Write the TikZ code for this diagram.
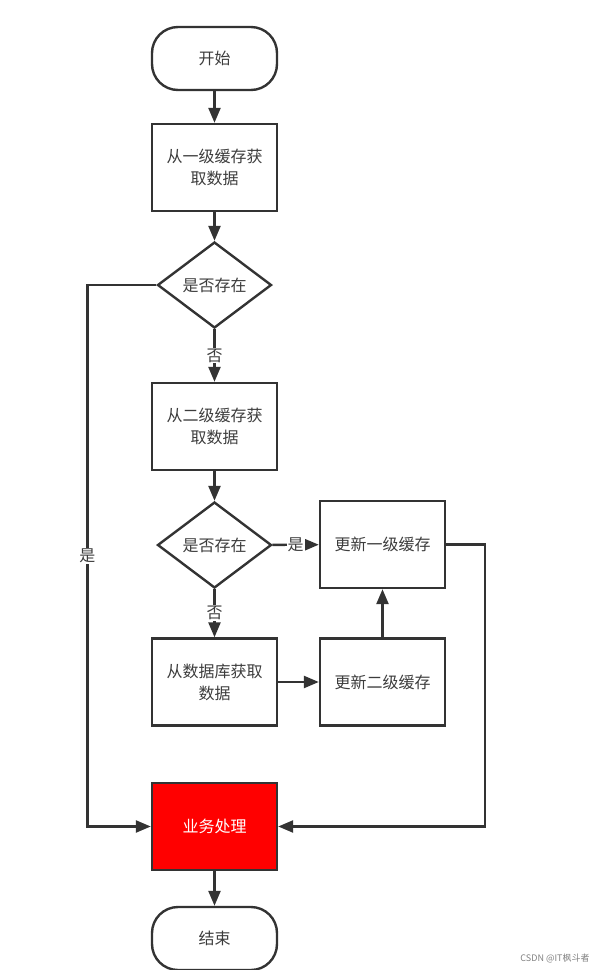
\documentclass[tikz,border=0pt]{standalone}
\usepackage{fontspec}
\setmainfont{Noto Sans CJK SC}
\usetikzlibrary{shapes.geometric,arrows.meta}

\definecolor{linegray}{HTML}{333333}
\definecolor{textgray}{HTML}{3C3C3C}
\definecolor{bizred}{HTML}{FF0000}

\begin{document}
\begin{tikzpicture}[x=1pt,y=-1pt,
    every node/.style={font=\fontsize{16}{22}\selectfont, text=textgray},
    flowline/.style={draw=linegray, line width=2.4pt},
    arrowline/.style={flowline, -{Triangle[length=15pt,width=12pt]}},
    terminal/.style={draw=linegray, line width=2.4pt, rounded corners=26pt,
      minimum width=125pt, minimum height=63pt, inner sep=0pt},
    process/.style={draw=linegray, line width=2.4pt, minimum width=125pt,
      minimum height=87pt, inner sep=0pt, align=center},
    decision/.style={diamond, draw=linegray, line width=2.4pt,
      minimum width=114pt, minimum height=86pt, inner sep=0pt},
    edgelabel/.style={fill=white, inner sep=1pt}]

  % Page frame
  \useasboundingbox (0,0) rectangle (599,970);

  % Main column
  \node[terminal] (start) at (214.5,58.5) {开始};
  \node[process] (fetchA) at (214.5,167.5) {从一级缓存获\\取数据};
  \node[decision] (checkA) at (214.5,285) {是否存在};
  \node[process] (fetchB) at (214.5,426.5) {从二级缓存获\\取数据};
  \node[decision] (checkB) at (214.5,545) {是否存在};
  \node[process] (fetchDB) at (214.5,682) {从数据库获取\\数据};
  \node[process, fill=bizred, text=white] (biz) at (214.5,826.5) {业务处理};
  \node[terminal] (finish) at (214.5,938.5) {结束};

  % Cache updates
  \node[process] (updA) at (382.5,544.5) {更新一级缓存};
  \node[process] (updB) at (382.5,682) {更新二级缓存};

  % Connectors
  \draw[arrowline] (start) -- (fetchA);
  \draw[arrowline] (fetchA) -- (checkA);
  \draw[arrowline] (checkA) -- node[edgelabel] {否} (fetchB);
  \draw[arrowline] (fetchB) -- (checkB);
  \draw[arrowline] (checkB) -- node[edgelabel] {是} (updA);
  \draw[arrowline] (checkB) -- node[edgelabel] {否} (fetchDB);
  \draw[arrowline] (fetchDB) -- (updB);
  \draw[arrowline] (updB) -- (updA);
  \draw[arrowline] (updA.east) -- ++(39,0) |- (biz.east);
  \draw[arrowline] (checkA.west) -- ++(-69,0) |- node[edgelabel, pos=0.25] {是} (biz.west);
  \draw[arrowline] (biz) -- (finish);

  % Watermark
  \node[font=\fontsize{9}{10}\selectfont, text=gray] (mark) at (555,958) {CSDN @IT枫斗者};
\end{tikzpicture}
\end{document}
